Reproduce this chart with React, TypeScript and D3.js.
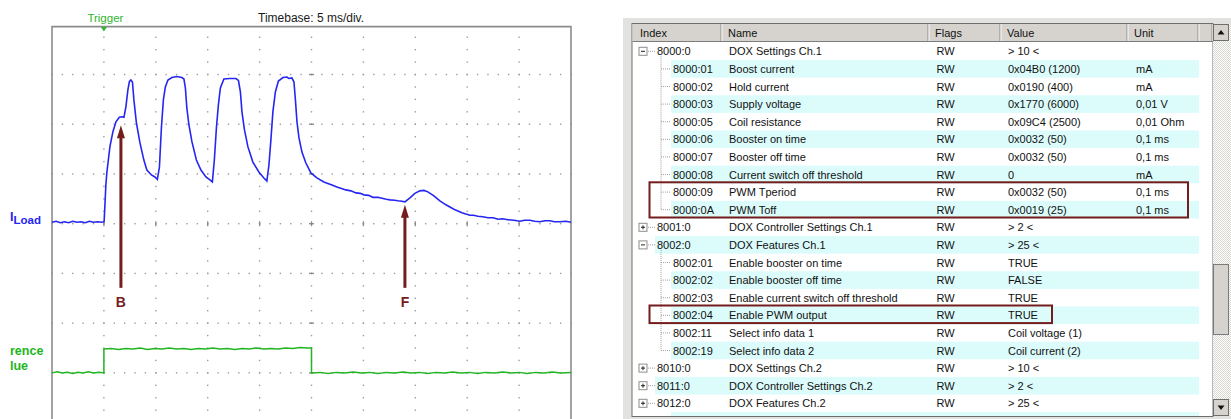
import React from 'react';
import * as d3 from 'd3';

// ---- scope data: time in ms (trigger = 0), amplitude in divisions from screen centre ----
const loadCurrent: [number, number][] = [
  [-5, 0.03], [-4.6, 0.05], [-4.2, 0.02], [-3.8, 0.04], [-3.4, 0.02], [-3.0, 0.05], [-2.6, 0.03],
  [-2.2, 0.04], [-1.8, 0.02], [-1.4, 0.05], [-1.0, 0.03], [-0.6, 0.04], [-0.2, 0.03], [0.02, 0.04],
  [0.1, 0.38], [0.19, 0.78], [0.29, 1.04], [0.58, 1.55], [0.87, 1.85], [1.16, 2.05], [1.49, 2.14],
  [1.73, 2.15], [1.93, 2.14], [2.12, 2.35], [2.31, 2.69], [2.46, 2.86], [2.6, 2.89], [2.75, 2.85],
  [2.89, 2.49], [3.13, 2.03], [3.47, 1.63], [3.85, 1.28], [4.14, 1.08], [4.58, 0.98], [4.91, 0.94],
  [5.15, 0.89], [5.35, 1.14], [5.54, 1.93], [5.73, 2.49], [5.92, 2.75], [6.17, 2.89], [6.55, 2.94],
  [7.03, 2.96], [7.51, 2.94], [7.71, 2.91], [7.85, 2.73], [7.99, 2.33], [8.19, 1.99], [8.48, 1.65],
  [8.91, 1.28], [9.35, 1.08], [9.83, 0.94], [10.21, 0.88], [10.45, 0.84], [10.64, 1.28], [10.84, 1.93],
  [11.03, 2.39], [11.22, 2.73], [11.56, 2.91], [12.14, 2.92], [12.72, 2.92], [12.96, 2.88], [13.15, 2.65],
  [13.3, 2.25], [13.54, 1.89], [13.87, 1.55], [14.35, 1.24], [14.93, 1.04], [15.41, 0.92], [15.7, 0.86],
  [15.9, 1.18], [16.09, 1.69], [16.28, 2.25], [16.52, 2.65], [16.81, 2.87], [17.25, 2.94], [17.63, 2.95],
  [17.82, 2.92], [18.11, 2.93], [18.31, 2.85], [18.45, 2.49], [18.6, 2.05], [18.79, 1.73], [19.08, 1.44],
  [19.46, 1.22], [19.94, 1.02], [20.52, 0.92], [21.19, 0.84], [21.97, 0.78], [22.45, 0.74], [23.31, 0.68],
  [23.8, 0.66], [24.28, 0.62], [24.7, 0.61], [25.05, 0.58], [25.5, 0.57], [25.92, 0.53], [26.4, 0.53],
  [26.79, 0.51], [27.2, 0.49], [27.56, 0.48], [28.0, 0.47], [28.32, 0.46], [28.7, 0.45], [29.0, 0.44],
  [29.48, 0.52], [29.96, 0.61], [30.44, 0.66], [30.83, 0.67], [31.21, 0.64], [31.79, 0.56], [32.37, 0.46],
  [32.95, 0.38], [33.72, 0.29], [34.49, 0.22], [35.26, 0.17], [35.6, 0.17], [36.03, 0.15], [36.5, 0.14],
  [37.0, 0.12], [37.5, 0.12], [37.96, 0.09], [38.4, 0.1], [38.92, 0.08], [39.5, 0.07], [40.08, 0.05],
  [40.5, 0.07], [41.04, 0.07], [41.5, 0.05], [42.0, 0.04], [42.5, 0.06], [42.97, 0.06], [43.4, 0.04],
  [43.93, 0.04], [44.5, 0.05], [45, 0.03],
];

const referenceValue: [number, number][] = [
  [-5, -3.0], [-4.5, -2.98], [-4, -3.0], [-3.5, -2.99], [-3, -3.01], [-2.5, -2.99], [-2, -3.0],
  [-1.5, -2.98], [-1, -3.0], [-0.5, -2.99], [0, -3.0], [0, -2.52], [0.7, -2.51], [1.4, -2.53],
  [2.1, -2.51], [2.8, -2.52], [3.5, -2.5], [4.2, -2.53], [4.9, -2.51], [5.6, -2.52], [6.3, -2.5],
  [7, -2.52], [7.7, -2.51], [8.4, -2.53], [9.1, -2.51], [9.8, -2.52], [10.5, -2.5], [11.2, -2.52],
  [11.9, -2.51], [12.6, -2.53], [13.3, -2.51], [14, -2.52], [14.7, -2.5], [15.4, -2.52], [16.1, -2.51],
  [16.8, -2.52], [17.5, -2.5], [18.2, -2.51], [18.9, -2.49], [19.6, -2.5], [20, -2.5], [20, -3.0],
  [20.8, -2.99], [21.6, -3.01], [22.4, -2.99], [23.2, -3.0], [24, -2.98], [24.8, -3.0], [25.6, -2.99],
  [26.4, -3.01], [27.2, -2.99], [28, -3.0], [28.8, -2.98], [29.6, -3.0], [30.4, -2.99], [31.2, -3.01],
  [32, -2.99], [32.8, -3.0], [33.6, -2.98], [34.4, -3.0], [35.2, -2.99], [36, -3.01], [36.8, -2.99],
  [37.6, -3.0], [38.4, -2.98], [39.2, -3.0], [40, -2.99], [40.8, -3.01], [41.6, -2.99], [42.4, -3.0],
  [43.2, -2.98], [44, -3.0], [45, -2.99],
];

// arrow markers: label, time, tip level, tail level (divisions)
const markers = [
  { label: 'B', t: 1.64, tip: 1.98, tail: -1.29 },
  { label: 'F', t: 29.0, tip: 0.38, tail: -1.29 },
];

// ---- parameter table ----
const headers = ['Index', 'Name', 'Flags', 'Value', 'Unit', ''];
const rowIndex = ['8000:0', '8000:01', '8000:02', '8000:03', '8000:05', '8000:06', '8000:07', '8000:08',
  '8000:09', '8000:0A', '8001:0', '8002:0', '8002:01', '8002:02', '8002:03', '8002:04', '8002:11',
  '8002:19', '8010:0', '8011:0', '8012:0', ''];
const rowName = ['DOX Settings Ch.1', 'Boost current', 'Hold current', 'Supply voltage', 'Coil resistance',
  'Booster on time', 'Booster off time', 'Current switch off threshold', 'PWM Tperiod', 'PWM Toff',
  'DOX Controller Settings Ch.1', 'DOX Features Ch.1', 'Enable booster on time', 'Enable booster off time',
  'Enable current switch off threshold', 'Enable PWM output', 'Select info data 1', 'Select info data 2',
  'DOX Settings Ch.2', 'DOX Controller Settings Ch.2', 'DOX Features Ch.2', ''];
const rowFlags = ['RW', 'RW', 'RW', 'RW', 'RW', 'RW', 'RW', 'RW', 'RW', 'RW', 'RW', 'RW', 'RW', 'RW',
  'RW', 'RW', 'RW', 'RW', 'RW', 'RW', 'RW', ''];
const rowValue = ['> 10 <', '0x04B0 (1200)', '0x0190 (400)', '0x1770 (6000)', '0x09C4 (2500)',
  '0x0032 (50)', '0x0032 (50)', '0', '0x0032 (50)', '0x0019 (25)', '> 2 <', '> 25 <', 'TRUE', 'FALSE',
  'TRUE', 'TRUE', 'Coil voltage (1)', 'Coil current (2)', '> 10 <', '> 2 <', '> 25 <', ''];
const rowUnit = ['', 'mA', 'mA', '0,01 V', '0,01 Ohm', '0,1 ms', '0,1 ms', 'mA', '0,1 ms', '0,1 ms',
  '', '', '', '', '', '', '', '', '', '', '', ''];
// '-' expanded group, '+' collapsed group, '' child entry
const rowNode = ['-', '', '', '', '', '', '', '', '', '', '+', '-', '', '', '', '', '', '', '+', '+', '+', ''];
const highlights = [
  { from: 8, to: 9, right: 1188 },
  { from: 15, to: 15, right: 1052 },
];

const FONT = '"Liberation Sans", Arial, sans-serif';
const MAROON = '#741d1d';

const Scope: React.FC = () => {
  const x = d3.scaleLinear().domain([-5, 45]).range([52, 571]);
  const y = d3.scaleLinear().domain([-4, 4]).range([422.6, 24.8]);
  const line = d3.line<[number, number]>().x(d => x(d[0])).y(d => y(d[1]));

  const majorT = d3.range(0, 41, 5);
  const majorV = d3.range(-3, 4, 1);
  const minorT = d3.range(-5, 45.01, 1);
  const minorV = d3.range(-4, 4.01, 0.25);
  const top = y(4) + 1.8;

  return (
    <g>
      {/* grid dots */}
      {majorV.map(v => minorT.map(t => (
        <rect key={`h${v}_${t}`} x={x(t) - 0.7} y={y(v) - 0.7} width={1.4} height={1.4} fill="#9c9c9c" />
      )))}
      {majorT.map(t => minorV.filter(v => y(v) > top + 3).map(v => (
        <rect key={`v${t}_${v}`} x={x(t) - 0.7} y={y(v) - 0.7} width={1.4} height={1.4} fill="#9c9c9c" />
      )))}
      {/* centre cross ticks */}
      {majorT.map(t => (
        <line key={`ct${t}`} x1={x(t)} x2={x(t)} y1={y(0) - 2.5} y2={y(0) + 2.5} stroke="#8a8a8a" strokeWidth={1.3} />
      ))}
      {majorV.map(v => (
        <line key={`cv${v}`} x1={x(20) - 2.5} x2={x(20) + 2.5} y1={y(v)} y2={y(v)} stroke="#8a8a8a" strokeWidth={1.3} />
      ))}
      {/* frame */}
      <path d={`M${x(-5)},419 V${top} H${x(45)} V419`} fill="none" stroke="#8c8c8c" strokeWidth={1.6} />

      {/* traces */}
      <path d={line(referenceValue) || ''} fill="none" stroke="#22b522" strokeWidth={1.5} />
      <path d={line(loadCurrent) || ''} fill="none" stroke="#2626f2" strokeWidth={1.6} />

      {/* trigger + timebase */}
      <text x={x(0) + 1.5} y={22} textAnchor="middle" fontFamily={FONT} fontSize={11.5} fill="#2fb52f">Trigger</text>
      <path d={`M${x(0) - 3},${top + 0.5} L${x(0) + 3},${top + 0.5} L${x(0)},${top + 5} Z`} fill="#2fb52f" />
      <text x={258} y={22} fontFamily={FONT} fontSize={12} fill="#1a1a1a">Timebase: 5 ms/div.</text>

      {/* channel labels */}
      <text x={10} y={221} fontFamily={FONT} fontWeight="bold" fill="#2626f2">
        <tspan fontSize={12.5}>I</tspan>
        <tspan fontSize={11.5} dy={2.5}>Load</tspan>
      </text>
      <text x={10} y={355} fontFamily={FONT} fontWeight="bold" fontSize={12.5} fill="#22b522">rence</text>
      <text x={10} y={370} fontFamily={FONT} fontWeight="bold" fontSize={12.5} fill="#22b522">lue</text>

      {/* arrows */}
      {markers.map(m => {
        const cx = x(m.t);
        const tipY = y(m.tip);
        return (
          <g key={m.label}>
            <line x1={cx} x2={cx} y1={y(m.tail)} y2={tipY + 10} stroke={MAROON} strokeWidth={3} />
            <path d={`M${cx},${tipY} L${cx - 4},${tipY + 13} L${cx + 4},${tipY + 13} Z`} fill={MAROON} />
            <text x={cx} y={y(m.tail) + 19} textAnchor="middle" fontFamily={FONT} fontWeight="bold"
              fontSize={14} fill={MAROON}>{m.label}</text>
          </g>
        );
      })}
    </g>
  );
};

const ParamTable: React.FC = () => {
  const colEdges = [632, 722, 929, 1001, 1128, 1199, 1213];
  const rows = d3.range(rowIndex.length);
  const rowY = d3.scaleBand<number>().domain(rows).range([42.5, 42.5 + 17.6 * rows.length]);
  const bw = rowY.bandwidth();
  const textY = (i: number) => (rowY(i) as number) + bw / 2 + 4;
  const boxX = 643;
  const childLineX = 661;

  // extents of child groups for the vertical tree line
  const groups: { start: number; end: number }[] = [];
  rows.forEach(i => {
    if (rowNode[i] === '' && rowIndex[i] !== '') {
      const last = groups[groups.length - 1];
      if (last && last.end === i - 1) last.end = i;
      else groups.push({ start: i, end: i });
    }
  });

  return (
    <g fontFamily={FONT} fontSize={11}>
      <defs>
        <pattern id="checker" width={2} height={2} patternUnits="userSpaceOnUse">
          <rect width={2} height={2} fill="#ffffff" />
          <rect width={1} height={1} fill="#d8d6d0" />
          <rect x={1} y={1} width={1} height={1} fill="#d8d6d0" />
        </pattern>
        <clipPath id="tableClip">
          <rect x={633} y={24} width={580} height={392} />
        </clipPath>
      </defs>
      {/* outer window frame */}
      <rect x={623} y={18} width={608} height={401} fill="#e2e2e0" />
      <rect x={632} y={23.5} width={581} height={393} fill="#ffffff" stroke="#6e6e6e" strokeWidth={1} />

      <g clipPath="url(#tableClip)">
        {/* row backgrounds */}
        {rows.filter(i => i % 2 === 1).map(i => (
          <rect key={`bg${i}`} x={rowNode[i] === '' ? 671 : 655} y={rowY(i)} width={1199 - (rowNode[i] === '' ? 671 : 655)}
            height={bw} fill="#dcfcfc" />
        ))}

        {/* tree lines */}
        {groups.map(g => (
          <line key={`g${g.start}`} x1={childLineX} x2={childLineX} y1={rowY(g.start - 1)! + bw / 2 + 5}
            y2={rowY(g.end)! + bw / 2} stroke="#a0a0a0" strokeDasharray="1 1" />
        ))}
        {rows.filter(i => rowIndex[i] !== '').map(i => {
          const cy = (rowY(i) as number) + bw / 2;
          if (rowNode[i] === '') {
            return <line key={`t${i}`} x1={childLineX} x2={671} y1={cy} y2={cy} stroke="#a0a0a0" strokeDasharray="1 1" />;
          }
          return (
            <g key={`t${i}`}>
              <line x1={boxX + 5} x2={655} y1={cy} y2={cy} stroke="#a0a0a0" strokeDasharray="1 1" />
              <rect x={boxX - 4} y={cy - 4} width={8} height={8} fill="#ffffff" stroke="#8e8e8e" />
              <line x1={boxX - 2} x2={boxX + 2} y1={cy} y2={cy} stroke="#222" />
              {rowNode[i] === '+' && <line x1={boxX} x2={boxX} y1={cy - 2} y2={cy + 2} stroke="#222" />}
            </g>
          );
        })}

        {/* cell text */}
        {rows.map(i => (
          <g key={`r${i}`} fill="#111">
            <text x={rowNode[i] === '' ? 673 : 657} y={textY(i)}>{rowIndex[i]}</text>
            <text x={colEdges[1] + 7} y={textY(i)}>{rowName[i]}</text>
            <text x={colEdges[2] + 7.5} y={textY(i)}>{rowFlags[i]}</text>
            <text x={colEdges[3] + 7} y={textY(i)}>{rowValue[i]}</text>
            <text x={colEdges[4] + 8} y={textY(i)}>{rowUnit[i]}</text>
          </g>
        ))}

        {/* highlight boxes */}
        {highlights.map(h => (
          <rect key={`hl${h.from}`} x={649.5} y={(rowY(h.from) as number) - 1}
            width={h.right - 649.5} height={(rowY(h.to) as number) + bw - (rowY(h.from) as number)}
            fill="none" stroke={MAROON} strokeWidth={2} />
        ))}
      </g>

      {/* header */}
      <rect x={632.5} y={24} width={580} height={17.5} fill="#d6d3ce" />
      <line x1={632.5} x2={1213} y1={41.5} y2={41.5} stroke="#7c7c7c" />
      {colEdges.slice(1).map(e => (
        <g key={`he${e}`}>
          <line x1={e - 1} x2={e - 1} y1={24} y2={41} stroke="#8a8a8a" />
          <line x1={e} x2={e} y1={24} y2={41} stroke="#fbfbfb" />
        </g>
      ))}
      {headers.map((h, i) => (
        <text key={h + i} x={colEdges[i] + (i === 0 ? 8 : 6)} y={37} fill="#111">{h}</text>
      ))}

      {/* scrollbar */}
      <rect x={1213} y={24} width={18} height={392} fill="url(#checker)" />
      <rect x={1213.5} y={24.5} width={15} height={16} fill="#d6d3ce" stroke="#6e6e6e" />
      <path d="M1221,30 L1224.5,34.5 L1217.5,34.5 Z" fill="#111" />
      <rect x={1213.5} y={264.5} width={15} height={70} fill="#d6d3ce" stroke="#7a7a7a" />
      <rect x={1213.5} y={399.5} width={15} height={16} fill="#d6d3ce" stroke="#6e6e6e" />
      <path d="M1221,410 L1224.5,405.5 L1217.5,405.5 Z" fill="#111" />
    </g>
  );
};

export default function App() {
  return (
    <svg width={1231} height={419} style={{ position: 'absolute', left: 0, top: 0, background: '#ffffff' }}>
      <Scope />
      <ParamTable />
    </svg>
  );
}
